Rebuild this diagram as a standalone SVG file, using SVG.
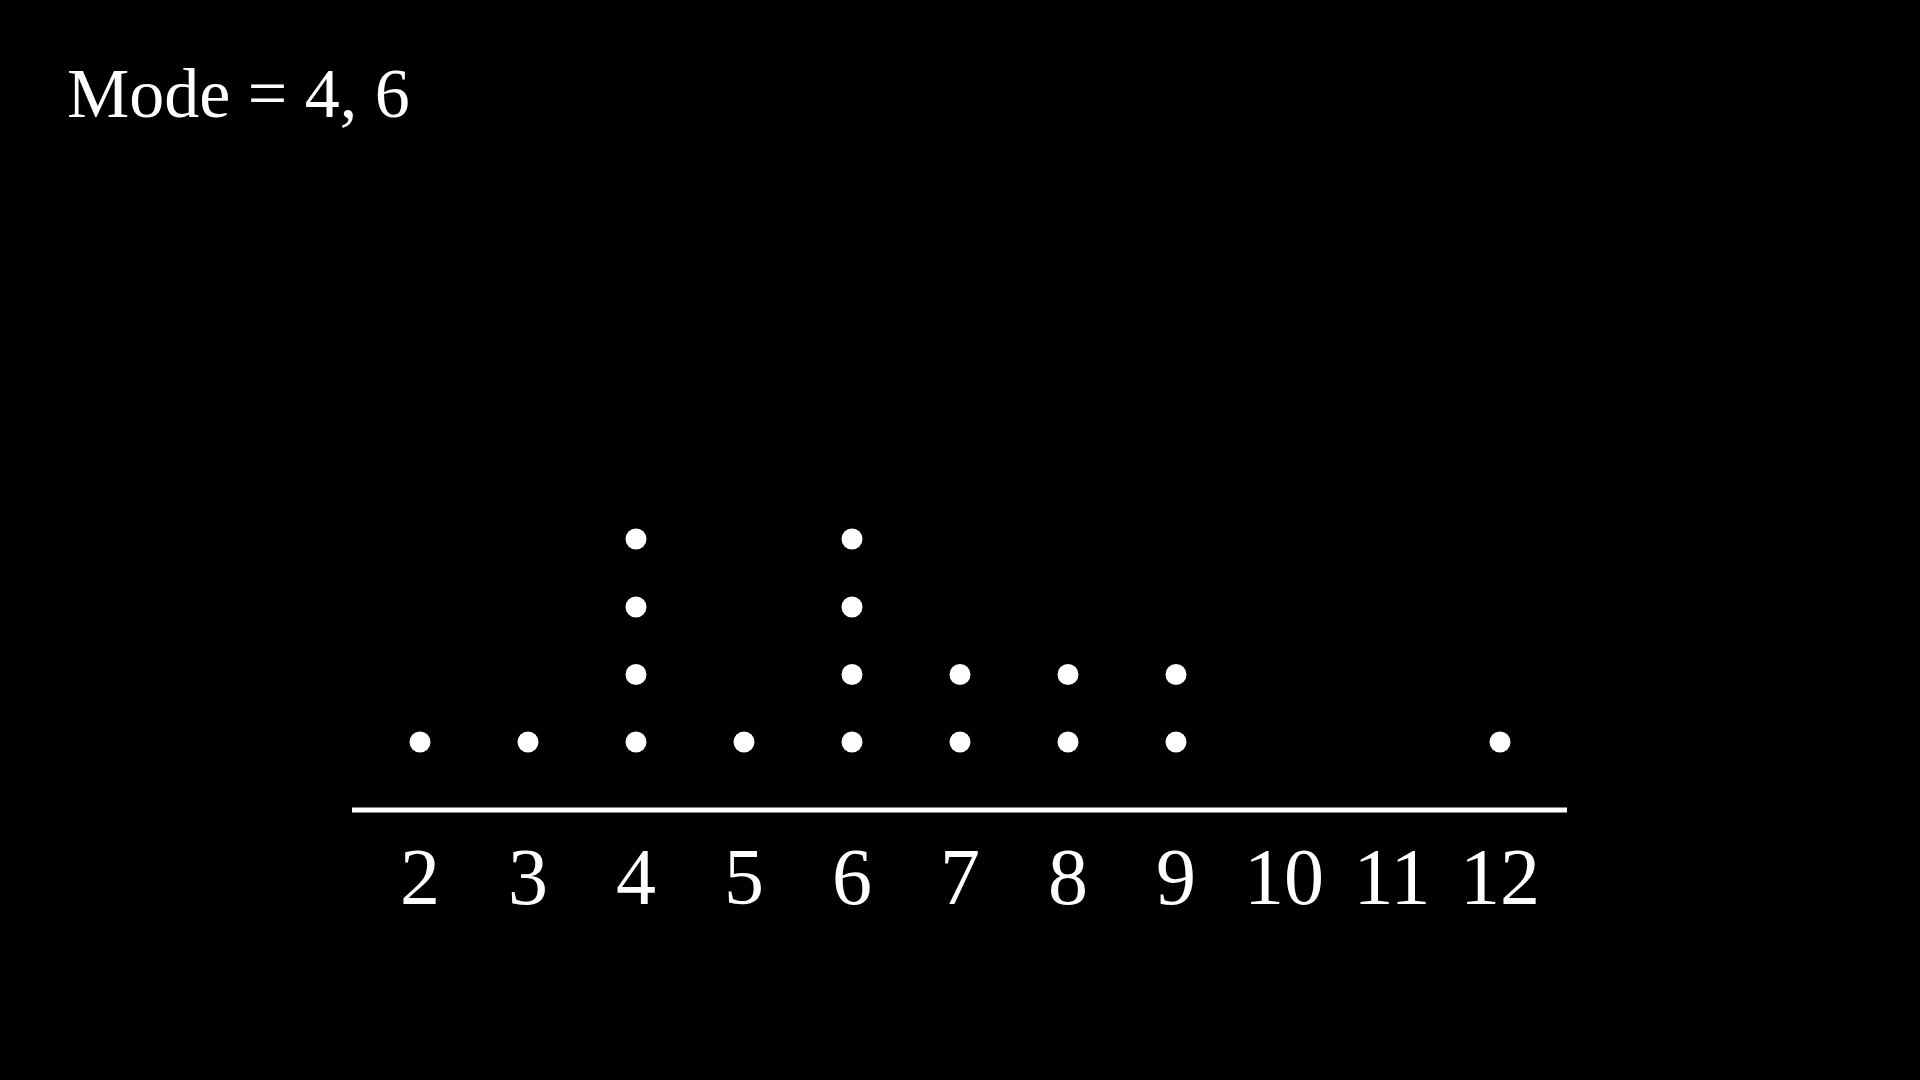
<svg xmlns="http://www.w3.org/2000/svg" width="1920" height="1080" viewBox="0 0 1920 1080">
<style>
.t{font-family:"Liberation Serif","DejaVu Serif",serif;fill:#fff}
.lbl{font-size:80px;text-anchor:middle}
.dot{fill:#fff}
</style>
<defs><circle id="d" r="10.5" class="dot"/></defs>
<rect width="1920" height="1080" fill="#000"/>
<text id="title" class="t" x="67" y="117" font-size="70">Mode = 4, 6</text>
<g id="axis"><line x1="352" y1="810" x2="1567" y2="810" stroke="#fff" stroke-width="5"/></g>
<g id="labels" class="t lbl">
<text x="420" y="904">2</text>
<text x="528" y="904">3</text>
<text x="636" y="904">4</text>
<text x="744" y="904">5</text>
<text x="852" y="904">6</text>
<text x="960" y="904">7</text>
<text x="1068" y="904">8</text>
<text x="1176" y="904">9</text>
<text x="1284" y="904">10</text>
<text x="1392" y="904">11</text>
<text x="1500" y="904">12</text>
</g>
<g id="dots">
<use href="#d" x="420" y="742"/>
<use href="#d" x="528" y="742"/>
<use href="#d" x="636" y="742"/><use href="#d" x="636" y="674.5"/><use href="#d" x="636" y="607"/><use href="#d" x="636" y="539"/>
<use href="#d" x="744" y="742"/>
<use href="#d" x="852" y="742"/><use href="#d" x="852" y="674.5"/><use href="#d" x="852" y="607"/><use href="#d" x="852" y="539"/>
<use href="#d" x="960" y="742"/><use href="#d" x="960" y="674.5"/>
<use href="#d" x="1068" y="742"/><use href="#d" x="1068" y="674.5"/>
<use href="#d" x="1176" y="742"/><use href="#d" x="1176" y="674.5"/>
<use href="#d" x="1500" y="742"/>
</g>
</svg>
